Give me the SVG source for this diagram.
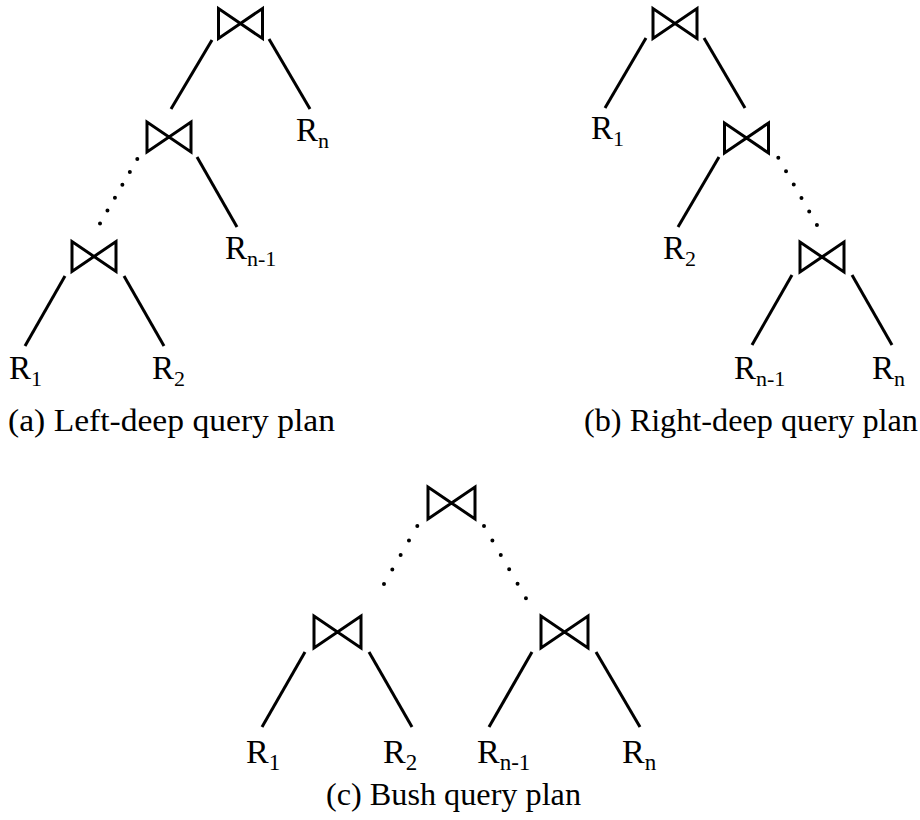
<svg xmlns="http://www.w3.org/2000/svg" width="920" height="820" viewBox="0 0 920 820">
<style>
.bt{fill:none;stroke:#000;stroke-width:3;stroke-linejoin:miter}
.e{stroke:#000;stroke-width:3;stroke-linecap:butt;fill:none}
.d{stroke:#000;stroke-width:4;stroke-linecap:round;fill:none}
.lbl{font-family:"Liberation Serif","Times New Roman",serif;font-size:33px;fill:#000}
.lblc{font-family:"Liberation Serif","Times New Roman",serif;font-size:34px;fill:#000}
.sub{font-size:22px}
.subc{font-size:23px}
.cap{font-family:"Liberation Serif","Times New Roman",serif;font-size:31px;fill:#000}
</style>
<defs>
<path id="bow" d="M-22,-15 L-22,15 L22,-15 L22,15 Z"/>
<path id="bowc" d="M-23.5,-16 L-23.5,16 L23.5,-16 L23.5,16 Z"/>
</defs>
<rect width="920" height="820" fill="#fff"/>

<g id="connectors">
<!-- tree a -->
<line class="e" x1="212" y1="40" x2="171" y2="109"/>
<line class="e" x1="269" y1="39" x2="310" y2="109"/>
<line class="e" x1="197" y1="157" x2="237" y2="227"/>
<path class="d" d="M137.3,159 L100,223.5" stroke-dasharray="0 14.9"/>
<line class="e" x1="65" y1="276" x2="25" y2="346"/>
<line class="e" x1="124" y1="276" x2="164" y2="346"/>
<!-- tree b -->
<line class="e" x1="646" y1="38" x2="605" y2="108"/>
<line class="e" x1="704" y1="38" x2="745" y2="108"/>
<line class="e" x1="719" y1="157" x2="678" y2="227"/>
<path class="d" d="M778.3,157.7 L817,225" stroke-dasharray="0 15.5"/>
<line class="e" x1="792" y1="275" x2="752" y2="345"/>
<line class="e" x1="852" y1="275" x2="892" y2="345"/>
<!-- tree c -->
<path class="d" d="M417.3,526 L375.7,598.3" stroke-dasharray="0 16.7"/>
<path class="d" d="M484,526 L526,598.3" stroke-dasharray="0 16.7"/>
<line class="e" x1="305" y1="652" x2="262" y2="727"/>
<line class="e" x1="369" y1="652" x2="412" y2="727"/>
<line class="e" x1="532" y1="652" x2="489" y2="727"/>
<line class="e" x1="596" y1="652" x2="640" y2="727"/>
</g>

<g id="a_join1"><use href="#bow" class="bt" x="240.5" y="23.5"/></g>
<g id="a_join2"><use href="#bow" class="bt" x="169" y="137"/></g>
<g id="a_join3"><use href="#bow" class="bt" x="94" y="256.5"/></g>
<g id="a_Rn"><text class="lbl" x="296" y="141">R<tspan class="sub" dy="7">n</tspan></text></g>
<g id="a_Rn1"><text class="lbl" x="225" y="259">R<tspan class="sub" dy="7">n-1</tspan></text></g>
<g id="a_R1"><text class="lbl" x="9" y="379">R<tspan class="sub" dy="7">1</tspan></text></g>
<g id="a_R2"><text class="lbl" x="152" y="379">R<tspan class="sub" dy="7">2</tspan></text></g>
<g id="a_caption"><text class="cap" x="8" y="431" textLength="327" lengthAdjust="spacingAndGlyphs">(a) Left-deep query plan</text></g>

<g id="b_join1"><use href="#bow" class="bt" x="675" y="23.5"/></g>
<g id="b_join2"><use href="#bow" class="bt" x="746.5" y="138"/></g>
<g id="b_join3"><use href="#bow" class="bt" x="822" y="257"/></g>
<g id="b_R1"><text class="lbl" x="591" y="139">R<tspan class="sub" dy="7">1</tspan></text></g>
<g id="b_R2"><text class="lbl" x="663" y="259">R<tspan class="sub" dy="7">2</tspan></text></g>
<g id="b_Rn1"><text class="lbl" x="734" y="379">R<tspan class="sub" dy="7">n-1</tspan></text></g>
<g id="b_Rn"><text class="lbl" x="872" y="379">R<tspan class="sub" dy="7">n</tspan></text></g>
<g id="b_caption"><text class="cap" x="584" y="431" textLength="334" lengthAdjust="spacingAndGlyphs">(b) Right-deep query plan</text></g>

<g id="c_join1"><use href="#bowc" class="bt" x="451.5" y="503"/></g>
<g id="c_join2"><use href="#bowc" class="bt" x="337.5" y="632"/></g>
<g id="c_join3"><use href="#bowc" class="bt" x="564.5" y="632"/></g>
<g id="c_R1"><text class="lblc" x="246" y="763">R<tspan class="subc" dy="7">1</tspan></text></g>
<g id="c_R2"><text class="lblc" x="383" y="763">R<tspan class="subc" dy="7">2</tspan></text></g>
<g id="c_Rn1"><text class="lblc" x="477" y="763">R<tspan class="subc" dy="7">n-1</tspan></text></g>
<g id="c_Rn"><text class="lblc" x="622" y="763">R<tspan class="subc" dy="7">n</tspan></text></g>
<g id="c_caption"><text class="cap" x="326" y="805" textLength="255" lengthAdjust="spacingAndGlyphs">(c) Bush query plan</text></g>
</svg>
